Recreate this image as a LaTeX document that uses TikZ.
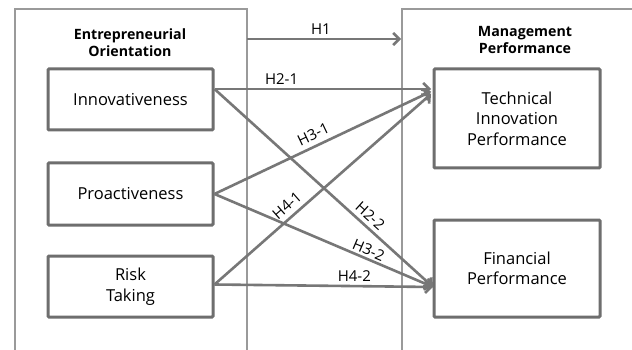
\documentclass[tikz,border=0pt]{standalone}
\usepackage{fontspec}
\setmainfont{Open Sans}
\usetikzlibrary{arrows.meta}
\definecolor{boxc}{HTML}{6E6E6E}
\definecolor{linec}{HTML}{777777}
\definecolor{framec}{HTML}{9A9A9A}
\begin{document}
\begin{tikzpicture}[x=1pt,y=-1pt,
  framebox/.style={draw=framec,line width=1.4pt},
  var/.style={draw=boxc,line width=3pt,rounded corners=1pt,minimum width=165pt,inner sep=0pt,align=center,font=\fontsize{16.5}{20.5}\selectfont,fill=white},
  title/.style={align=center,font=\bfseries\fontsize{14.2}{17}\selectfont},
  arr/.style={draw=linec,line width=2.6pt,-{Straight Barb[length=6pt,width=12pt,line width=2.6pt]}},
  lab/.style={font=\fontsize{15}{16}\selectfont,inner sep=1pt}]
\useasboundingbox (0,0) rectangle (632,350);
\fill[white] (0,0) rectangle (632,350);
% outer frames
\draw[framebox] (15,352) -- (15,9) -- (247,9) -- (247,352);
\draw[framebox] (402,352) -- (402,9) -- (634,9);
\coordinate (eoR) at (247,39);
\coordinate (mpL) at (401,39);
\node[title] (eot) at (130,43) {Entrepreneurial\\Orientation};
\node[title] (mpt) at (525,40) {Management\\Performance};
% variables
\node[var,minimum height=61pt] (inn) at (130.5,99.5) {Innovativeness};
\node[var,minimum height=62pt] (pro) at (130.5,194) {Proactiveness};
\node[var,minimum height=61pt] (risk) at (130.5,286.5) {Risk\\Taking};
\node[var,minimum height=99pt,minimum width=166pt] (tip) at (517,118.5) {Technical\\Innovation\\Performance};
\node[var,minimum height=97pt,minimum width=166pt] (fin) at (517,268.5) {Financial\\Performance};
\coordinate (t1) at (431,89);
\coordinate (t2) at (431,91.5);
\coordinate (t3) at (431,94);
\coordinate (f0) at (433,287);
% connectors
\draw[arr] (eoR) -- node[lab,above=2pt,pos=0.48] {H1} (mpL);
\draw[arr] ([yshift=10.5pt]inn.east) -- node[lab,above=2pt,pos=0.31] {H2-1} (t1);
\draw[arr] ([yshift=10.5pt]inn.east) -- node[lab,above=3pt,sloped,pos=0.68] {H2-2} (f0);
\draw[arr] (pro.east) -- node[lab,above=4pt,sloped,pos=0.48] {H3-1} (t2);
\draw[arr] (pro.east) -- node[lab,above=1pt,sloped,pos=0.69] {H3-2} (f0);
\draw[arr] ([yshift=2pt]risk.east) -- node[lab,above=4pt,sloped,pos=0.37] {H4-1} (t3);
\draw[arr] ([yshift=2pt]risk.east) -- node[lab,above=2pt,pos=0.64] {H4-2} (f0);
\end{tikzpicture}
\end{document}
